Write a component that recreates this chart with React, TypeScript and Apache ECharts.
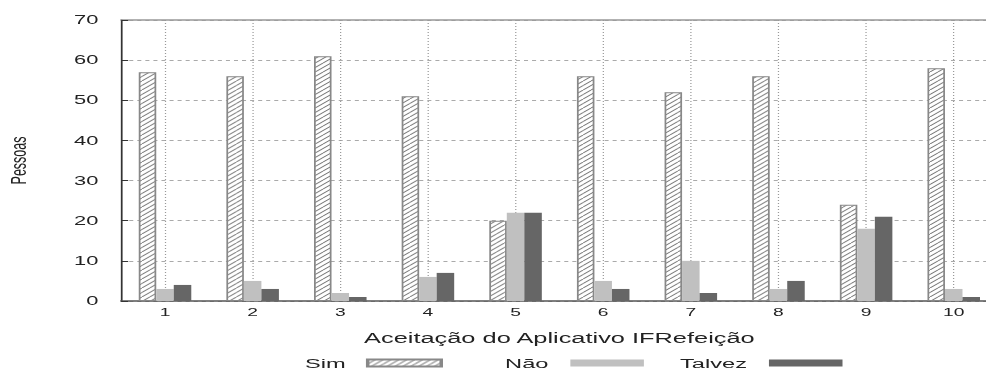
import React, { useEffect, useRef } from "react";
import * as echarts from "echarts";

const categories = ["1", "2", "3", "4", "5", "6", "7", "8", "9", "10"];
const simValues = [57, 56, 61, 51, 20, 56, 52, 56, 24, 58];
const naoValues = [3, 5, 2, 6, 22, 5, 10, 3, 18, 3];
const talvezValues = [4, 3, 1, 7, 22, 3, 2, 5, 21, 1];
const seriesNames = ["Sim", "Não", "Talvez"];
const yMin = 0;
const yMax = 70;
const yInterval = 10;
const xAxisName = "Aceitação do Aplicativo IFRefeição";
const yAxisName = "Pessoas";

const W = 563;
const H = 371;
const K = 986 / W;
const FONT = "Liberation Sans";
const TXT = "#222";

const hatchSvg =
  '<svg xmlns="http://www.w3.org/2000/svg" width="9" height="9">' +
  '<rect width="9" height="9" fill="#ffffff"/>' +
  '<path d="M0 4.5L4.5 0M0 9L9 0M4.5 9L9 4.5" stroke="#666666" stroke-width="0.7" fill="none"/>' +
  "</svg>";
const hatchUrl = "data:image/svg+xml;charset=utf-8," + encodeURIComponent(hatchSvg);

export default function App() {
  const ref = useRef<HTMLDivElement>(null);
  useEffect(() => {
    if (!ref.current) return;
    const chart = echarts.init(ref.current, undefined, { renderer: "svg" });
    const hatch: any = { image: hatchUrl, repeat: "repeat", imageWidth: 9, imageHeight: 9 };
    const legendBase = {
      top: 356,
      padding: 0,
      orient: "horizontal",
      align: "right",
      itemWidth: 42,
      itemHeight: 7,
      icon: "rect",
      selectedMode: false,
      textStyle: { fontFamily: FONT, fontSize: 13.5, color: TXT, padding: [0, 7.5, 0, 0] },
    };
    chart.setOption({
      animation: false,
      grid: { left: 69.2, top: 20, width: 500.4, bottom: 70, show: false, outerBoundsMode: "none", containLabel: false },
      legend: [
        { ...legendBase, left: 174.2, data: [seriesNames[0]] },
        { ...legendBase, left: 288.4, data: [seriesNames[1]] },
        { ...legendBase, left: 388.3, data: [seriesNames[2]] },
      ],
      xAxis: [
        {
          type: "category",
          data: categories,
          position: "bottom",
          axisLine: { lineStyle: { color: "#555", width: 1.5 } },
          axisTick: { inside: true, alignWithLabel: true, length: 4, lineStyle: { color: "#333" } },
          axisLabel: { margin: 6, fontSize: 11, fontFamily: FONT, color: TXT },
          splitLine: {
            show: true,
            alignWithLabel: true,
            lineStyle: { type: [1, 2], color: "#999", width: 0.7 },
          },
          name: xAxisName,
          nameLocation: "middle",
          nameGap: 29,
          nameTextStyle: { fontFamily: FONT, fontSize: 14.5, color: TXT },
        },
        {
          type: "category",
          data: categories,
          position: "top",
          axisLine: { lineStyle: { color: "#999", width: 1.5 } },
          axisTick: { inside: true, alignWithLabel: true, length: 4, lineStyle: { color: "#222" } },
          axisLabel: { show: false },
          splitLine: { show: false },
        },
      ],
      yAxis: {
        type: "value",
        min: yMin,
        max: yMax,
        interval: yInterval,
        axisLine: { show: true, lineStyle: { color: "#333", width: 1 } },
        axisTick: { show: true, inside: true, length: 4, lineStyle: { color: "#333" } },
        axisLabel: { margin: 13, fontSize: 12.5, fontFamily: FONT, color: TXT },
        splitLine: { show: true, lineStyle: { type: [2.3, 2.3], color: "#aaa", width: 1 } },
        name: yAxisName,
        nameLocation: "middle",
        nameRotate: 90,
        nameGap: 52,
        nameTextStyle: { fontFamily: FONT, fontSize: 12.5, color: TXT },
      },
      series: [
        {
          name: seriesNames[0],
          type: "bar",
          data: simValues,
          barWidth: 10,
          barGap: "0%",
          itemStyle: { color: hatch, borderColor: "#888", borderWidth: 1 },
        },
        {
          name: seriesNames[1],
          type: "bar",
          data: naoValues,
          barWidth: 10,
          barGap: "0%",
          itemStyle: { color: "#c0c0c0" },
        },
        {
          name: seriesNames[2],
          type: "bar",
          data: talvezValues,
          barWidth: 10,
          barGap: "0%",
          itemStyle: { color: "#666666" },
        },
      ],
    });
    return () => chart.dispose();
  }, []);
  return (
    <div
      ref={ref}
      style={{
        position: "fixed",
        left: 0,
        top: 0,
        width: W,
        height: H,
        transform: `scaleX(${K})`,
        transformOrigin: "0 0",
      }}
    />
  );
}
